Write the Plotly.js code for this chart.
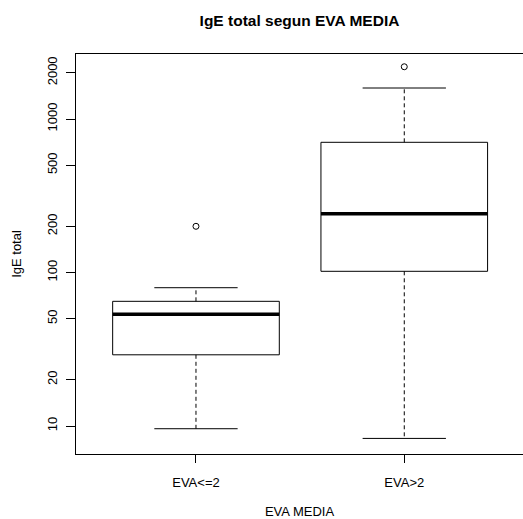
<!DOCTYPE html>
<html>
<head>
<meta charset="utf-8">
<script src="https://cdn.plot.ly/plotly-3.0.1.min.js"></script>
<style>html,body{margin:0;padding:0;background:#fff;overflow:hidden}</style>
</head>
<body>
<div id="chart" style="width:523px;height:519px"></div>
<script>
// ---- data ----
const categories = ["EVA<=2", "EVA>2"];
const lowerWhisker = [9.6, 8.3];
const q1 = [29.1, 101.8];
const median = [53.4, 241.5];
const q3 = [64.9, 705];
const upperWhisker = [79.6, 1592];
const outliers = [[200], [2190]];
const yTickVals = [10, 20, 50, 100, 200, 500, 1000, 2000];

// ---- build boxplot pieces ----
const halfBox = 0.4, halfCap = 0.2;
const boxX = [], boxY = [], medX = [], medY = [], wX = [], wY = [], capX = [], capY = [], oX = [], oY = [];
categories.forEach((c, i) => {
  const x = i + 1;
  boxX.push(x - halfBox, x + halfBox, x + halfBox, x - halfBox, x - halfBox, null);
  boxY.push(q1[i], q1[i], q3[i], q3[i], q1[i], null);
  medX.push(x - halfBox, x + halfBox, null);
  medY.push(median[i], median[i], null);
  wX.push(x, x, null, x, x, null);
  wY.push(q3[i], upperWhisker[i], null, q1[i], lowerWhisker[i], null);
  capX.push(x - halfCap, x + halfCap, null, x - halfCap, x + halfCap, null);
  capY.push(upperWhisker[i], upperWhisker[i], null, lowerWhisker[i], lowerWhisker[i], null);
  outliers[i].forEach(v => { oX.push(x); oY.push(v); });
});

const traces = [
  {x: wX, y: wY, mode: 'lines', line: {color: '#000', width: 1, dash: '4px,3px'}, hoverinfo: 'skip'},
  {x: capX, y: capY, mode: 'lines', line: {color: '#000', width: 1}, hoverinfo: 'skip'},
  {x: boxX, y: boxY, mode: 'lines', line: {color: '#000', width: 1}, hoverinfo: 'skip'},
  {x: medX, y: medY, mode: 'lines', line: {color: '#000', width: 3.5}, hoverinfo: 'skip'},
  {x: oX, y: oY, mode: 'markers', marker: {symbol: 'circle-open', size: 6, color: '#000', line: {width: 1}}, hoverinfo: 'skip'}
];

const font = {family: 'Liberation Sans, Arial, sans-serif', size: 13, color: '#000'};

const layout = {
  width: 523, height: 519,
  margin: {l: 76, r: 0, t: 54, b: 65},
  paper_bgcolor: '#fff', plot_bgcolor: '#fff',
  showlegend: false,
  font: font,
  title: {
    text: '<b>IgE total segun EVA MEDIA</b>',
    font: {family: 'Liberation Sans, Arial, sans-serif', size: 15.5, color: '#000'},
    x: 0.5, xref: 'paper', xanchor: 'center',
    y: 1 - 21 / 519, yref: 'container', yanchor: 'middle'
  },
  xaxis: {
    range: [0.424, 2.570],
    tickvals: [1, 2], ticktext: categories,
    ticks: 'outside', ticklen: 8, tickcolor: '#000', tickwidth: 1,
    ticklabelstandoff: 8,
    showline: true, mirror: true, linecolor: '#000', linewidth: 1,
    showgrid: false, zeroline: false,
    tickfont: font,
    title: {text: 'EVA MEDIA', font: font, standoff: 20}
  },
  yaxis: {
    type: 'log',
    range: [0.8176, 3.4235],
    tickvals: yTickVals, ticktext: yTickVals.map(String),
    tickangle: -90,
    ticks: 'outside', ticklen: 9, tickcolor: '#000', tickwidth: 1,
    ticklabelstandoff: 4,
    showline: true, mirror: true, linecolor: '#000', linewidth: 1,
    showgrid: false, zeroline: false,
    tickfont: font,
    title: {text: 'IgE total', font: font, standoff: 20}
  }
};

Plotly.newPlot('chart', traces, layout, {staticPlot: true, displayModeBar: false});
</script>
</body>
</html>
